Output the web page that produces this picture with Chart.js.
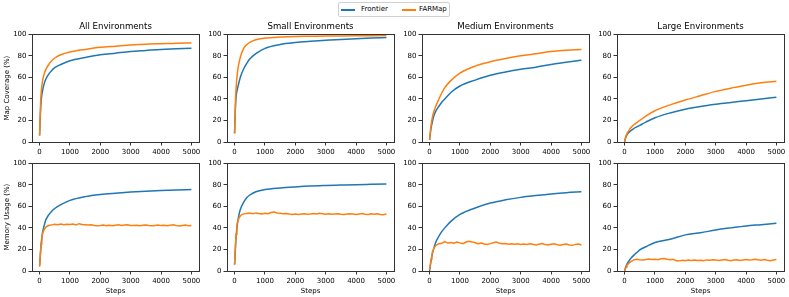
<!DOCTYPE html>
<html>
<head>
<meta charset="utf-8">
<script src="https://cdn.jsdelivr.net/npm/chart.js@4.4.1/dist/chart.umd.min.js"></script>
<style>
  body { margin: 0; background: #fff; width: 789px; height: 297px; position: relative; overflow: hidden; font-family: "DejaVu Sans", sans-serif; }
  canvas { position: absolute; }
  #legend { position: absolute; left: 338px; top: 2px; width: 112px; height: 15px; border: 1px solid #d0d0d0; border-radius: 2px; box-sizing: border-box; font-size: 7px; color: #000; }
  #legend .ln { position: absolute; top: 6px; width: 14px; height: 1.5px; }
  #legend .tx { position: absolute; top: 0; line-height: 13px; }
</style>
</head>
<body>
<div id="legend">
  <span class="ln" style="left:2px;background:#1f77b4"></span><span class="tx" style="left:22px">Frontier</span>
  <span class="ln" style="left:63px;background:#ff7f0e"></span><span class="tx" style="left:80px">FARMap</span>
</div>
<canvas id="c0" width="207" height="135" style="left:0px;top:22px"></canvas>
<canvas id="c1" width="207" height="135" style="left:195px;top:22px"></canvas>
<canvas id="c2" width="207" height="135" style="left:390px;top:22px"></canvas>
<canvas id="c3" width="207" height="135" style="left:585px;top:22px"></canvas>
<canvas id="c4" width="207" height="138" style="left:0px;top:157px"></canvas>
<canvas id="c5" width="207" height="138" style="left:195px;top:157px"></canvas>
<canvas id="c6" width="207" height="138" style="left:390px;top:157px"></canvas>
<canvas id="c7" width="207" height="138" style="left:585px;top:157px"></canvas>
<script>
// panel titles / axis labels
const titles = ['All Environments', 'Small Environments', 'Medium Environments', 'Large Environments'];
const xTicks = [0, 1000, 2000, 3000, 4000, 5000];
const yTicks = [0, 20, 40, 60, 80, 100];

// x positions for the smooth curves
const steps = [0, 25, 50, 100, 150, 200, 300, 400, 500, 700, 1000, 1500, 2000, 2500, 3000, 3500, 4000, 4500, 5000];
// x positions for the noisy memory curves
const stepsNoisy = [0, 25, 50, 75, 100, 150, 200, 250, 300,
  400, 500, 600, 700, 800, 900, 1000, 1100, 1200, 1300,
  1400, 1500, 1600, 1700, 1800, 1900, 2000, 2100, 2200, 2300,
  2400, 2500, 2600, 2700, 2800, 2900, 3000, 3100, 3200, 3300,
  3400, 3500, 3600, 3700, 3800, 3900, 4000, 4100, 4200, 4300,
  4400, 4500, 4600, 4700, 4800, 4900, 5000];

// map coverage (%)
const covAllFrontier = [6, 25, 38, 48, 54, 58, 63, 66.5, 69, 72, 75.5, 78.5, 81, 82.5, 84, 85, 86, 86.5, 87];
const covAllFarmap = [6, 30, 45, 57, 63, 67, 72, 75.5, 78, 81, 83.5, 86, 88, 89, 90, 90.8, 91.3, 91.8, 92];
const covSmallFrontier = [8, 30, 42, 50, 56, 61, 68, 73, 77, 82, 87, 90.5, 92.3, 93.5, 94.5, 95.2, 95.9, 96.5, 97];
const covSmallFarmap = [8, 35, 50, 66, 74, 80, 87, 90.5, 92.5, 95, 96.5, 97.5, 98, 98.2, 98.4, 98.5, 98.6, 98.7, 98.8];
const covMediumFrontier = [2, 8, 13, 20, 25, 28.5, 33, 37, 40, 46, 52, 57.5, 62, 65, 67.5, 69.5, 72, 74, 76];
const covMediumFarmap = [2, 10, 16, 24, 29, 33, 39.5, 45.5, 50.5, 57, 64, 70.5, 74.5, 77.5, 80, 82, 84, 85.2, 86];
const covLargeFrontier = [0, 3, 5, 7.5, 9, 10.5, 12.5, 14, 15.5, 18.5, 22.5, 27, 30.5, 33, 35, 36.7, 38.3, 40, 41.5];
const covLargeFarmap = [0, 3.5, 6, 9, 11, 13, 16, 18, 20, 24, 29, 34.5, 39, 43, 47, 50, 52.8, 55, 56.5];

// memory usage (%)
const memAllFrontier = [5, 15, 25, 36, 42, 47, 52, 55.5, 58, 61.5, 65.5, 69, 71, 72.2, 73.2, 74, 74.6, 75.1, 75.5];
const memSmallFrontier = [6, 20, 32, 45, 53, 58, 64, 68, 70.5, 73.5, 75.5, 77, 78, 78.8, 79.3, 79.7, 80.1, 80.4, 80.7];
const memMediumFrontier = [0, 5, 10, 17, 22, 26.5, 32, 36.5, 40, 46, 52.5, 58.5, 63, 66, 68.3, 70, 71.5, 72.7, 73.5];
const memLargeFrontier = [0, 2.5, 4.5, 7.5, 9.5, 11.5, 14.5, 17, 19.5, 22.5, 26.5, 29.5, 33.5, 35.5, 38, 40, 41.8, 43, 44.3];

const memAllFarmap = [4, 15, 25, 31, 35, 38.5, 40.5, 41.5, 42.2,
  42.8, 43.3, 43.0, 43.6, 42.9, 43.4, 43.1, 43.5, 42.8, 43.9,
  43.2, 43.0, 42.6, 42.9, 42.3, 41.9, 42.2, 42.6, 42.1, 42.5,
  42.0, 42.4, 42.8, 42.2, 42.6, 42.9, 42.3, 42.1, 42.5, 42.0,
  42.4, 42.7, 42.2, 41.9, 42.3, 42.6, 42.1, 42.4, 42.0, 42.5,
  42.8, 42.2, 41.8, 42.3, 42.6, 42.0, 42.3];
const memSmallFarmap = [6, 22, 34, 42, 46, 49.5, 51.5, 52.5, 53,
  53.4, 53.8, 53.2, 53.9, 53.4, 53.0, 53.6, 53.2, 54.3, 54.8,
  53.9, 53.5, 53.1, 53.4, 52.8, 52.5, 52.9, 52.4, 52.8, 53.1,
  52.6, 52.9, 53.3, 52.8, 53.5, 53.1, 52.7, 53.0, 52.6, 52.9,
  53.2, 52.7, 52.5, 52.9, 53.2, 52.8, 52.4, 52.9, 53.3, 52.7,
  52.5, 53.0, 52.6, 53.1, 52.4, 52.2, 52.8];
const memMediumFarmap = [1, 6, 11, 15, 18, 21.5, 23.5, 24.5, 25.2,
  25.8, 27.2, 25.9, 26.5, 25.7, 26.8, 26.1, 25.4, 26.9, 27.5,
  27.0, 26.2, 25.3, 25.9, 25.1, 24.6, 25.4, 26.3, 26.9, 25.8,
  25.2, 25.6, 24.9, 25.3, 24.8, 25.2, 24.7, 25.1, 24.5, 25.3,
  24.8, 24.2, 24.9, 25.4, 24.6, 24.1, 24.8, 25.2, 24.3, 23.9,
  24.6, 25.1, 24.2, 23.8, 24.7, 25.0, 24.1];
const memLargeFarmap = [0, 2, 3.5, 5, 6, 7.5, 8.5, 9.5, 10.3,
  10.8, 10.4, 10.1, 10.6, 11.2, 10.7, 11.0, 10.5, 11.3, 11.6,
  10.9, 10.4, 10.8, 9.6, 9.4, 9.9, 9.5, 10.1, 9.8, 10.2,
  9.7, 10.0, 9.6, 10.3, 9.9, 10.4, 10.1, 9.8, 10.2, 10.6,
  9.9, 9.5, 10.1, 10.4, 9.8, 10.3, 10.7, 10.2, 10.5, 10.9,
  10.4, 10.0, 10.6, 9.9, 9.6, 10.2, 10.6];

const BLUE = '#1f77b4';
const ORANGE = '#ff7f0e';
const FONT = 'DejaVu Sans';

// matplotlib style box around the plot area
const frame = {
  id: 'frame',
  afterDatasetsDraw(chart) {
    const a = chart.chartArea;
    const ctx = chart.ctx;
    ctx.save();
    ctx.strokeStyle = '#333';
    ctx.lineWidth = 1;
    const l = Math.round(a.left) + 0.5, t = Math.round(a.top) + 0.5;
    ctx.strokeRect(l, t, Math.round(a.right) - Math.round(a.left), Math.round(a.bottom) - Math.round(a.top));
    ctx.restore();
  }
};

function pts(xs, ys) {
  return xs.map((x, i) => ({ x: x, y: ys[i] }));
}

function makePanel(id, col, row, frontier, farmap, farmapSteps) {
  const top = row === 0;
  const datasets = [
    { label: 'Frontier', data: pts(steps, frontier), borderColor: BLUE, borderWidth: 1.5,
      pointRadius: 0, cubicInterpolationMode: 'monotone', order: 2 },
    { label: 'FARMap', data: pts(farmapSteps, farmap), borderColor: ORANGE, borderWidth: 1.5,
      pointRadius: 0, cubicInterpolationMode: farmapSteps === steps ? 'monotone' : 'default', tension: 0, order: 1 }
  ];
  new Chart(document.getElementById(id), {
    type: 'line',
    data: { datasets: datasets },
    options: {
      responsive: false,
      animation: false,
      devicePixelRatio: 1,
      layout: { padding: { top: top ? 0 : 6, right: 8, left: 0, bottom: 0 } },
      plugins: {
        legend: { display: false },
        tooltip: { enabled: false },
        title: {
          display: top, text: titles[col], color: '#000', fullSize: false,
          font: { family: FONT, size: 8.6, weight: 'normal' }, padding: { top: 0, bottom: 2 }
        }
      },
      scales: {
        x: {
          type: 'linear', min: -250, max: 5250,
          afterBuildTicks: s => { s.ticks = xTicks.map(v => ({ value: v })); },
          afterFit: s => { s.height = top ? 15 : 24; },
          ticks: { font: { family: FONT, size: 7 }, color: '#000', padding: 2, maxRotation: 0, autoSkip: false,
            callback: v => String(v) },
          grid: { display: true, drawOnChartArea: false, drawTicks: true, tickLength: 3.5, color: '#000', lineWidth: 0.8 },
          border: { display: false },
          title: { display: !top, text: 'Steps', color: '#000', font: { family: FONT, size: 7 }, padding: { top: 0, bottom: 0 } }
        },
        y: {
          min: 0, max: 100,
          afterBuildTicks: s => { s.ticks = yTicks.map(v => ({ value: v })); },
          afterFit: s => { s.width = 32; },
          ticks: { font: { family: FONT, size: 7 }, color: '#000', padding: 2, callback: v => String(v) },
          grid: { display: true, drawOnChartArea: false, drawTicks: true, tickLength: 3.5, color: '#000', lineWidth: 0.8 },
          border: { display: false },
          title: {
            display: col === 0, text: top ? 'Map Coverage (%)' : 'Memory Usage (%)', color: '#000',
            font: { family: FONT, size: 7 }, padding: { top: 3, bottom: 0 }
          }
        }
      }
    },
    plugins: [frame]
  });
}

makePanel('c0', 0, 0, covAllFrontier, covAllFarmap, steps);
makePanel('c1', 1, 0, covSmallFrontier, covSmallFarmap, steps);
makePanel('c2', 2, 0, covMediumFrontier, covMediumFarmap, steps);
makePanel('c3', 3, 0, covLargeFrontier, covLargeFarmap, steps);
makePanel('c4', 0, 1, memAllFrontier, memAllFarmap, stepsNoisy);
makePanel('c5', 1, 1, memSmallFrontier, memSmallFarmap, stepsNoisy);
makePanel('c6', 2, 1, memMediumFrontier, memMediumFarmap, stepsNoisy);
makePanel('c7', 3, 1, memLargeFrontier, memLargeFarmap, stepsNoisy);
</script>
</body>
</html>
